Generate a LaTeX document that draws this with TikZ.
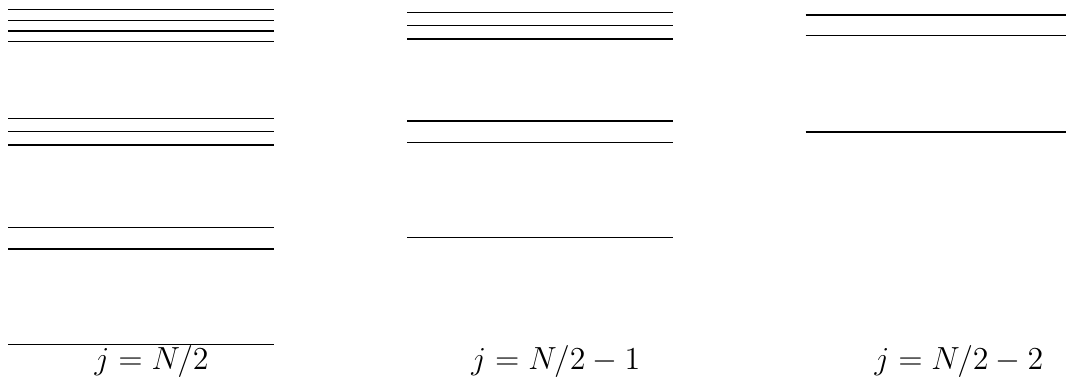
\documentclass[tikz,border=0pt]{standalone}
\usepackage{fix-cm}
\usetikzlibrary{calc}
\tikzset{enline/.style={line width=0.5pt,draw=black},
  jlabel/.style={anchor=base,font=\fontsize{12.8}{15}\selectfont}}
\newcommand{\lvlen}{3.742}

\begin{document}
\begin{tikzpicture}[x=1cm,y=1cm]
\useasboundingbox (0,0) rectangle (15,5.333);

\begin{scope}[shift={(0.113,0)}]
  \foreach \ey in {5.196,5.042,4.897,4.746,3.668,3.480,3.293,2.135,1.829,0.488}{
    \draw[enline] (0,\ey) -- (\lvlen,\ey);
  }
\end{scope}

\begin{scope}[shift={(5.727,0)}]
  \foreach \ey in {5.160,4.977,4.784,3.630,3.325,1.988}{
    \draw[enline] (0,\ey) -- (\lvlen,\ey);
  }
\end{scope}

\begin{scope}[shift={(11.337,0)}]
  \foreach \ey in {5.122,4.831,3.476}{
    \draw[enline] (0,\ey) -- (\lvlen,\ey);
  }
\end{scope}

\node[jlabel] (jfull) at (2.134,0.136) {$j=N/2$};
\node[jlabel] (jone) at (7.821,0.136) {$j=N/2-1$};
\node[jlabel] (jtwo) at (13.494,0.136) {$j=N/2-2$};
\end{tikzpicture}
\end{document}
